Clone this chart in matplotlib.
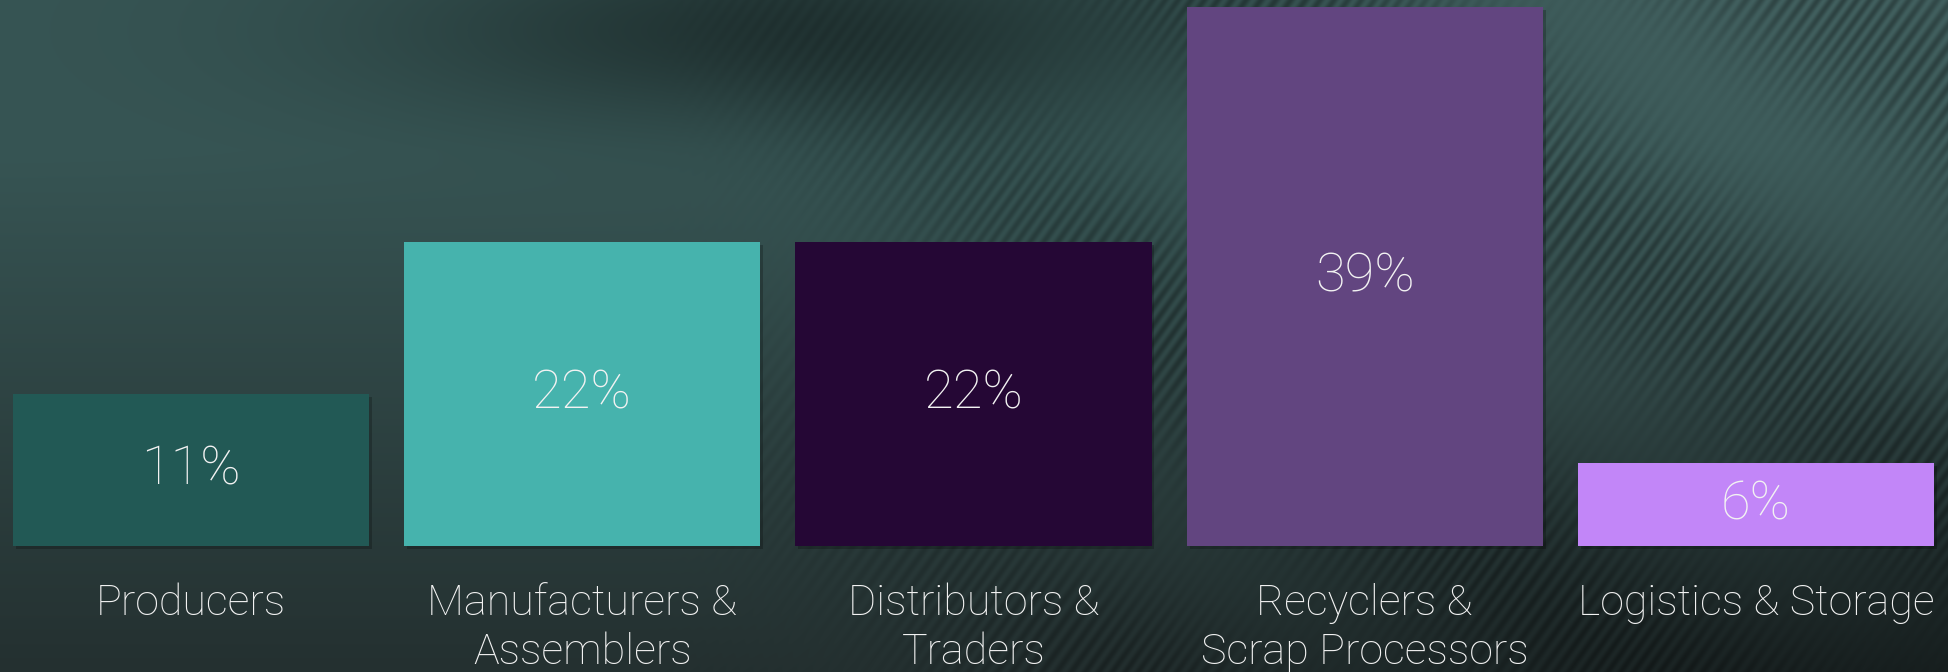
import numpy as np
import matplotlib
matplotlib.use("Agg")
import matplotlib.pyplot as plt
import matplotlib.patheffects as pe

categories = ["Producers", "Manufacturers &\nAssemblers", "Distributors &\nTraders",
              "Recyclers &\nScrap Processors", "Logistics & Storage"]
values = [11, 22, 22, 39, 6]
value_labels = ["11%", "22%", "22%", "39%", "6%"]
colors = ["#225955", "#46b3ad", "#250735", "#624580", "#c286f8"]

W, H = 1949, 672
fig = plt.figure(figsize=(W / 100, H / 100), dpi=100)

# background texture (procedural gradient + diagonal streaks)
bg_ax = fig.add_axes([0, 0, 1, 1])
bg_ax.set_axis_off()
yy, xx = np.mgrid[0:H, 0:W].astype(float)
top = np.array([0x37, 0x55, 0x54]) / 255
bot = np.array([0x24, 0x30, 0x30]) / 255
t = np.clip((yy - 150) / (H - 150), 0, 1)[..., None]
img = top * (1 - t) + bot * t
# dark swirl near top centre
d = np.exp(-(((xx - 800) / 400) ** 2 + ((yy - 30) / 95) ** 2))
img = img * (1 - 0.4 * d[..., None])
# lighter teal on the upper right
lr = np.clip((xx - 1100) / 600, 0, 1) * np.clip(1 - yy / 520, 0, 1)
img = img + 0.04 * lr[..., None]
# darker lower right
d2 = np.clip((xx - 1000) / 900, 0, 1) * np.clip((yy - 380) / 292, 0, 1)
img = img * (1 - 0.35 * d2[..., None])
# fine diagonal streaks on the right
phase = (xx + 0.72 * yy) / 2.2
streak = 0.5 + 0.5 * np.sin(phase + 1.3 * np.sin((xx + 0.72 * yy) / 37.0))
env = 0.55 + 0.45 * np.sin((xx - 1.4 * yy) / 90.0)
mask = np.clip((xx - 650) / 500, 0, 1)
img = img * (1 - 0.3 * (streak * env * mask)[..., None])
img = np.clip(img, 0, 1)
bg_ax.imshow(img, extent=[0, 1, 0, 1], aspect="auto", transform=bg_ax.transAxes)

ax = fig.add_axes([0, 0, 1, 1])
ax.patch.set_alpha(0)
ax.set_axis_off()
x = np.arange(len(categories))
bars = ax.bar(x, values, width=0.91, color=colors, zorder=3)
for b in bars:
    b.set_path_effects([pe.SimplePatchShadow(offset=(2, -2), shadow_rgbFace="black", alpha=0.22), pe.Normal()])
ax.set_xlim(-0.488, 4.493)
ax.set_ylim(-9.12, 39.5)

fam = ["Roboto", "DejaVu Sans"]
for xi, v, lab in zip(x, values, value_labels):
    ax.text(xi, v / 2, lab, ha="center", va="center", color="#f2f2f2",
            fontsize=39, family=fam, fontweight="light", zorder=4)
for xi, cat in zip(x, categories):
    ax.text(xi, -2.7, cat, ha="center", va="top", color="#f2f2f2",
            fontsize=31, family=fam, fontweight="light", linespacing=1.24, zorder=4)

fig.savefig("out.png", dpi=100)
